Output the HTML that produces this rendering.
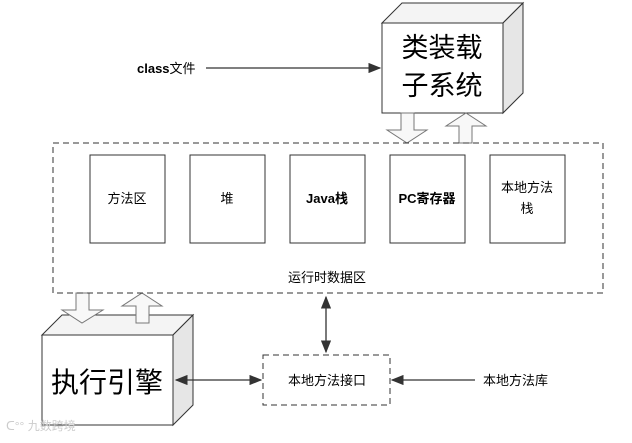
<!DOCTYPE html><html><head><meta charset="utf-8"><style>body{margin:0;background:#fff}</style></head><body>
<svg width="632" height="438" xmlns="http://www.w3.org/2000/svg" font-family="Liberation Sans, Noto Sans CJK SC, sans-serif">
<defs><marker id="a" markerWidth="10" markerHeight="8" refX="9" refY="4" orient="auto-start-reverse"><path d="M0,0 L10,4 L0,8 z" fill="#333"/></marker></defs>
<polygon points="382,23 402,3 523,3 503,23" fill="#f4f4f4" stroke="#333"/>
<polygon points="503,23 523,3 523,93 503,113" fill="#e6e6e6" stroke="#333"/>
<rect x="382" y="23" width="121" height="90" fill="#fff" stroke="#333"/>
<text x="442" y="57" font-size="27" text-anchor="middle">类装载</text>
<text x="442" y="95" font-size="27" text-anchor="middle">子系统</text>
<polygon points="42,335 62,315 193,315 173,335" fill="#f4f4f4" stroke="#333"/>
<polygon points="173,335 193,315 193,405 173,425" fill="#e6e6e6" stroke="#333"/>
<rect x="42" y="335" width="131" height="90" fill="#fff" stroke="#333"/>
<text x="107" y="392" font-size="28" text-anchor="middle">执行引擎</text>
<g fill="#f8f8f8" stroke="#777">
<polygon points="401,113 414,113 414,130 427,130 407,143 387,130 401,130"/>
<polygon points="459,143 472,143 472,126 486,126 466,113 446,126 459,126"/>
<polygon points="76,293 89,293 89,310 103,310 82,323 62,310 76,310"/>
<polygon points="136,323 149,323 149,306 162,306 142,293 122,306 136,306"/>
</g>
<rect x="53" y="143" width="550" height="150" fill="none" stroke="#333" stroke-dasharray="6,4"/>
<g fill="#fff" stroke="#333">
<rect x="90" y="155" width="75" height="88"/><rect x="190" y="155" width="75" height="88"/><rect x="290" y="155" width="75" height="88"/><rect x="390" y="155" width="75" height="88"/><rect x="490" y="155" width="75" height="88"/>
</g>
<g font-size="13" text-anchor="middle">
<text x="127" y="203">方法区</text><text x="227" y="203">堆</text><text x="327" y="203" font-weight="bold">Java栈</text><text x="427" y="203" font-weight="bold">PC寄存器</text>
<text x="527" y="192">本地方法</text><text x="527" y="213">栈</text>
<text x="327" y="282">运行时数据区</text>
</g>
<rect x="263" y="355" width="127" height="50" fill="#fff" stroke="#333" stroke-dasharray="6,4"/>
<text x="327" y="385" font-size="13" text-anchor="middle">本地方法接口</text>
<text x="137" y="73" font-size="13" font-weight="bold">class<tspan font-weight="normal">文件</tspan></text>
<text x="483" y="385" font-size="13">本地方法库</text>
<g stroke="#333" stroke-width="1.3">
<line x1="206" y1="68" x2="380" y2="68" marker-end="url(#a)"/>
<line x1="326" y1="297" x2="326" y2="352" marker-start="url(#a)" marker-end="url(#a)"/>
<line x1="176" y1="380" x2="261" y2="380" marker-start="url(#a)" marker-end="url(#a)"/>
<line x1="475" y1="380" x2="392" y2="380" marker-end="url(#a)"/>
</g>
<text x="6" y="430" font-size="12" fill="#ccc">ᑕ°° 九数跨境</text>
</svg></body></html>
